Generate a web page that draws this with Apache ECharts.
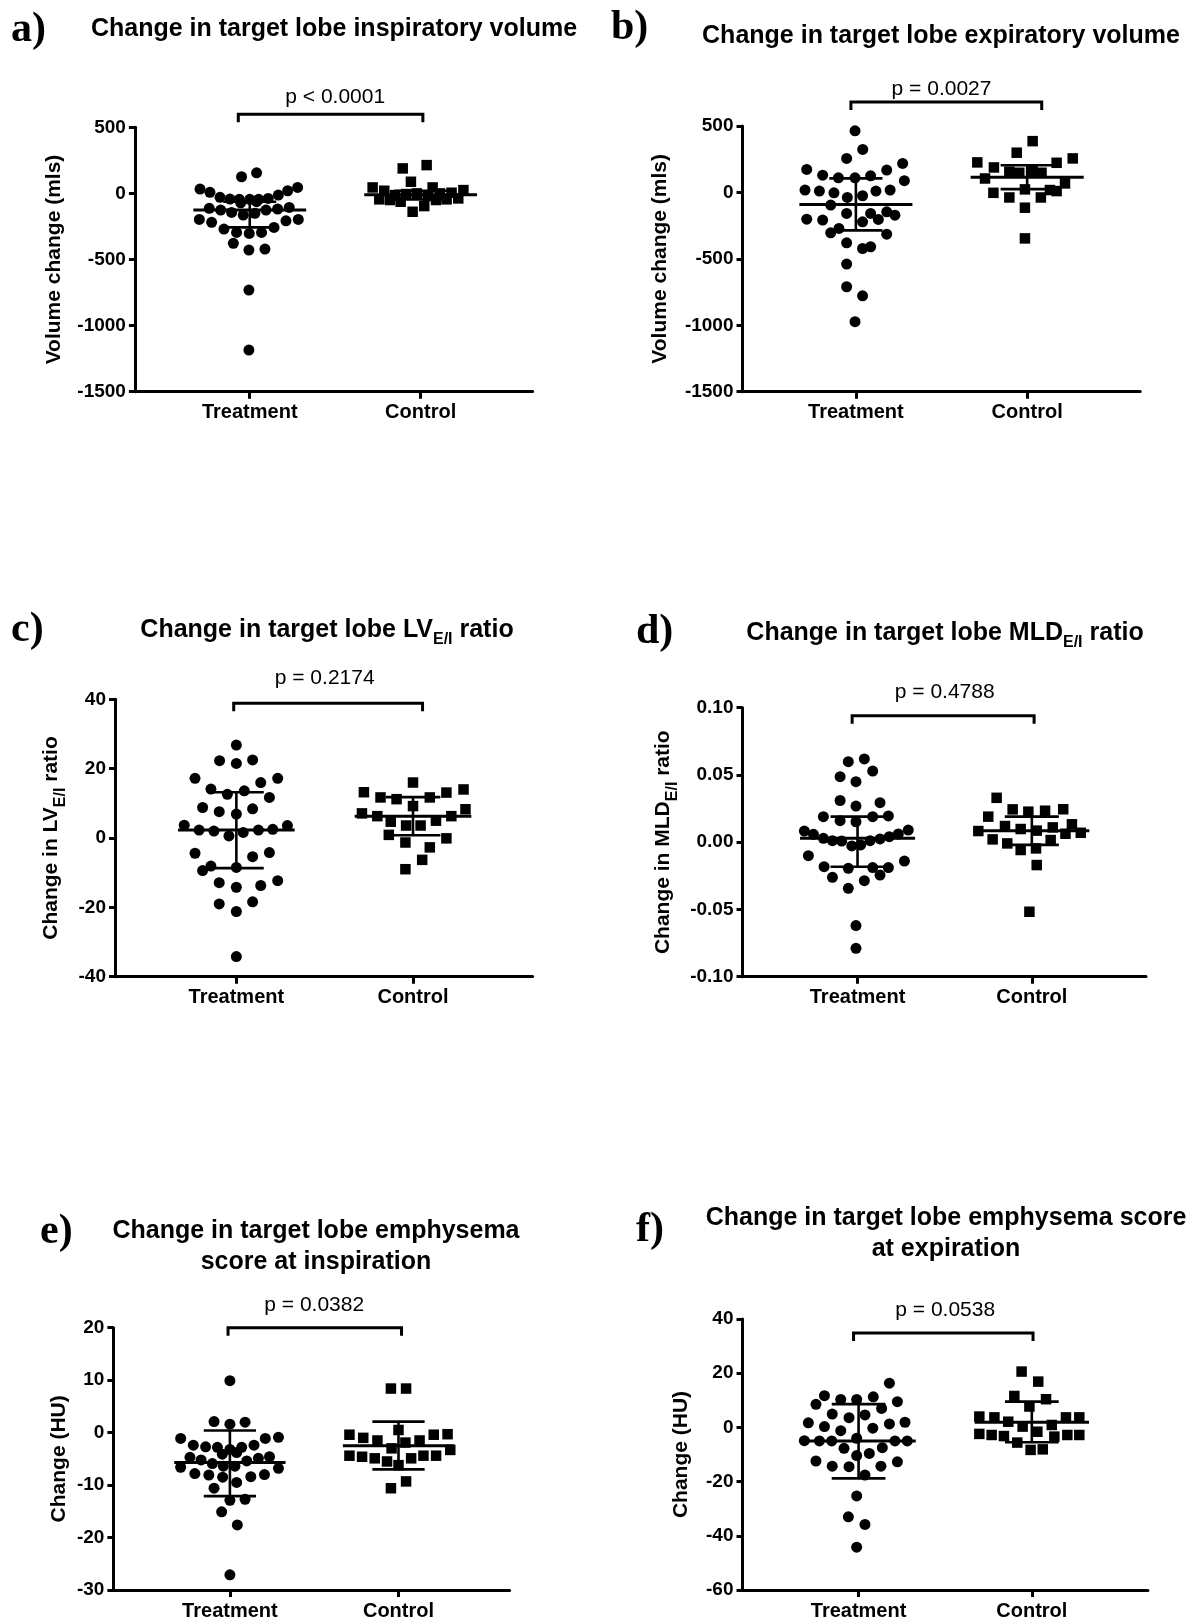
<!DOCTYPE html>
<html>
<head>
<meta charset="utf-8">
<style>
  html, body { margin: 0; padding: 0; background: #fff; }
  #chart { width: 1198px; height: 1622px; }
</style>
<script src="https://cdn.jsdelivr.net/npm/echarts@6/dist/echarts.min.js"></script>
</head>
<body>
<div id="chart"></div>
<script>
// categories on every x axis
const groups = ['Treatment', 'Control'];
const pValues = ['p < 0.0001', 'p = 0.0027', 'p = 0.2174', 'p = 0.4788', 'p = 0.0382', 'p = 0.0538'];

// a) inspiratory volume change (mls)
const aTreatment = [126, 156, 33, 8, 45, 20, -30, -43, -45, -45, -45, -38, -13, -113, -126, -144, -164, -151, -126, -118, -106, -71, -63, -197, -219, -207, -197, -270, -295, -303, -295, -257, -378, -429, -421, -731, -1185];
const aTreatmentSpread = [-0.048, 0.04, -0.291, -0.233, 0.28, 0.222, -0.174, -0.116, -0.061, 0, 0.052, 0.108, 0.167, -0.237, -0.17, -0.106, -0.038, 0.03, 0.095, 0.163, 0.231, -0.053, 0.04, -0.295, -0.223, 0.212, 0.284, -0.151, -0.077, -0.003, 0.069, 0.142, -0.096, -0.005, 0.089, -0.005, -0.005];
const aControl = [189, 214, 88, 45, 20, 45, 25, -13, -5, 0, -20, 0, 5, -45, -50, -63, -50, -45, -38, -96, -139];
const aControlSpread = [-0.105, 0.035, -0.057, -0.281, -0.213, 0.07, 0.25, -0.15, -0.086, -0.023, 0.041, 0.113, 0.181, -0.242, -0.179, -0.117, 0.09, 0.152, 0.22, 0.021, -0.047];
// centre line, lower bar, upper bar
const aSummary = [[-126, -257, -63], [-10, -45, 20]];

// b) expiratory volume change (mls)
const bTreatment = [464, 324, 256, 173, 130, 110, 110, 125, 168, 218, 88, 18, 10, -3, -38, -25, 10, 18, -95, -158, -201, -208, -221, -158, -203, -146, -171, -304, -271, -314, -379, -422, -409, -539, -710, -778, -973];
const bTreatmentSpread = [-0.005, 0.04, -0.054, -0.287, -0.194, -0.102, -0.005, 0.086, 0.18, 0.273, 0.283, -0.297, -0.213, -0.128, -0.05, 0.039, 0.117, 0.2, -0.147, -0.054, -0.287, -0.194, 0.039, 0.086, 0.131, 0.18, 0.228, -0.147, -0.099, 0.18, -0.054, 0.039, 0.086, -0.054, -0.054, 0.039, -0.005];
const bControl = [386, 299, 226, 188, 256, 223, 105, 156, 148, 161, 148, -3, -38, 23, -38, 18, 10, 68, -115, -346];
const bControlSpread = [0.032, -0.061, -0.291, -0.194, 0.266, 0.172, -0.246, -0.104, -0.046, 0.032, 0.084, -0.197, -0.104, -0.013, 0.08, 0.133, 0.172, 0.221, -0.013, -0.013];
const bSummary = [[-90, -286, 106], [115, 25, 205]];

// c) LV E/I ratio change
const cTreatment = [26.8, 22.3, 21.5, 22.5, 17.2, 17.2, 14.1, 12.6, 13.6, 16, 11.7, 8.8, 7.6, 6.9, 8.4, 3.7, 2.3, 2.0, 0.6, 1.6, 2.3, 2.5, 3.6, -4.4, -5.4, -4.2, -8.1, -9.4, -8.5, -12.9, -14.2, -13.7, -12.3, -19.0, -21.2, -18.4, -34.2];
const cTreatmentSpread = [0, -0.095, 0, 0.092, -0.234, 0.234, -0.144, -0.051, 0.045, 0.138, 0.187, -0.191, -0.097, 0, 0.092, -0.295, -0.211, -0.127, -0.042, 0.039, 0.125, 0.206, 0.289, -0.234, 0.092, 0.187, -0.144, -0.191, 0, -0.097, 0, 0.138, 0.234, -0.097, 0, 0.092, 0];
const cControl = [16.0, 13.2, 11.7, 11.2, 11.7, 13.1, 14.0, 9.2, 7.1, 6.3, 4.7, 3.6, 3.6, 5.0, 6.3, 8.3, 0.9, -1.3, -0.1, -2.7, -6.3, -9.0];
const cControlSpread = [0, -0.278, -0.184, -0.093, 0.095, 0.189, 0.286, 0, -0.289, -0.202, -0.126, -0.039, 0.043, 0.13, 0.217, 0.297, -0.137, -0.043, 0.189, 0.095, 0.052, -0.043];
const cSummary = [[2.3, -8.7, 13.2], [6.3, 0.8, 11.8]];

// d) MLD E/I ratio change
const dTreatment = [0.0599, 0.0619, 0.0487, 0.045, 0.0529, 0.031, 0.0269, 0.0294, 0.019, 0.016, 0.0152, 0.019, 0.0195, 0.0083, 0.0059, 0.0029, 0.0011, 0.0009, -0.0028, -0.002, 0.0011, 0.0024, 0.0041, 0.0061, 0.009, -0.01, -0.0182, -0.0194, -0.0189, -0.0189, -0.014, -0.0261, -0.0286, -0.0244, -0.0343, -0.062, -0.0789];
const dTreatmentSpread = [-0.053, 0.039, -0.1, -0.009, 0.087, -0.1, -0.009, 0.129, -0.196, -0.1, -0.009, 0.087, 0.177, -0.305, -0.253, -0.196, -0.144, -0.091, -0.033, 0.018, 0.072, 0.129, 0.182, 0.234, 0.291, -0.282, -0.192, -0.053, 0.087, 0.177, 0.269, -0.144, 0.039, 0.129, -0.053, -0.009, -0.009];
const dControl = [0.033, 0.019, 0.0244, 0.0227, 0.0234, 0.0245, 0.0083, 0.012, 0.0098, 0.0086, 0.011, 0.0133, 0.007, 0.0021, -0.0009, -0.0058, -0.0046, 0.0016, 0.0063, -0.017, -0.0517];
const dControlSpread = [-0.202, -0.25, -0.11, -0.02, 0.076, 0.18, -0.307, -0.154, -0.064, 0.028, 0.12, 0.23, 0.281, -0.225, -0.141, -0.064, 0.024, 0.108, 0.193, 0.028, -0.014];
const dSummary = [[0.0029, -0.0182, 0.019], [0.0086, -0.002, 0.019]];

// e) emphysema score at inspiration (HU)
const eTreatment = [9.9, 2.1, 1.6, 2.0, -1.1, -1.1, -0.9, -2.4, -2.7, -2.8, -3.2, -2.8, -2.4, -4.1, -3.8, -4.7, -5.2, -5.9, -6.4, -6.4, -5.4, -4.9, -4.6, -6.6, -6.8, -7.8, -8.1, -8.5, -9.5, -8.4, -8.0, -10.6, -12.9, -12.7, -15.1, -17.6, -27.1];
const eTreatmentSpread = [0, -0.094, 0, 0.09, -0.292, 0.21, 0.288, -0.217, -0.144, -0.074, 0, 0.07, 0.143, -0.045, 0.04, -0.237, -0.171, -0.104, -0.039, 0.03, 0.1, 0.169, 0.235, -0.292, 0.288, -0.208, -0.125, -0.043, 0.04, 0.124, 0.205, -0.094, 0, 0.09, -0.049, 0.044, 0];
const eControl = [8.4, 8.4, -0.4, -1.0, -1.5, -3.0, 0.5, -1.9, -1.5, -0.4, -0.3, -3.3, -4.4, -4.6, -4.9, -5.5, -6.2, -4.9, -4.4, -4.4, -10.6, -9.3];
const eControlSpread = [-0.045, 0.045, -0.291, -0.209, -0.125, -0.041, 0, 0.041, 0.125, 0.209, 0.291, 0.307, -0.291, -0.216, -0.141, -0.068, 0, 0.075, 0.148, 0.223, -0.045, 0.045];
const eSummary = [[-5.7, -12.1, 0.4], [-2.5, -7.0, 2.1]];

// f) emphysema score at expiration (HU)
const fTreatment = [16.3, 11.7, 10.3, 10.3, 11.3, 8.5, 9.5, 7.0, 4.9, 3.6, 4.6, 1.7, 0.3, -1.2, -0.3, 1.3, 1.9, -4.0, -4.9, -5.0, -5.0, -7.7, -10.4, -9.6, -7.5, -5.0, -5.0, -12.4, -14.3, -14.5, -17.6, -14.3, -12.7, -25.3, -33.0, -35.8, -44.2];
const fTreatmentSpread = [0.178, -0.197, -0.103, -0.011, 0.085, -0.246, 0.224, 0.133, -0.152, -0.055, 0.037, -0.29, -0.197, -0.103, 0.082, 0.178, 0.268, -0.011, -0.313, -0.226, -0.155, -0.084, -0.011, 0.062, 0.137, 0.21, 0.281, -0.246, -0.152, -0.055, 0.037, 0.129, 0.224, -0.011, -0.059, 0.037, -0.011];
const fControl = [20.6, 16.9, 11.6, 10.4, 7.7, 4.0, 3.7, 2.1, 0.3, 0.9, 3.7, 3.7, -2.4, -2.8, -3.2, -5.6, -1.6, -3.4, -2.8, -2.8, -8.3, -8.1];
const fControlSpread = [-0.059, 0.037, -0.101, 0.082, -0.014, -0.303, -0.216, -0.136, -0.053, 0.115, 0.197, 0.274, -0.303, -0.232, -0.161, -0.084, 0.032, 0.13, 0.205, 0.274, -0.007, 0.063];
const fSummary = [[-5.0, -18.8, 8.6], [1.9, -5.5, 9.5]];

const FONT = 'Liberation Sans';
const SUB = { fontFamily: FONT, fontWeight: 'bold', fontSize: 16, color: '#000', fill: '#000', padding: [19, 0, 0, 0], verticalAlign: 'middle' };

// layout of each panel (pixels)
const panels = [
  { letter: 'a)', title: 'Change in target lobe inspiratory volume', yName: 'Volume change (mls)',
    grid: [134.9, 127.3, 397.7, 264.4], xr: [0.328, 2.655], yr: [-1500, 500, 500], nameGap: 70,
    titleAt: [334, 29], letterAt: [11, 30], bracket: [0.933, 2.013], bracketDy: -13, labelDy: 17,
    t: aTreatment, ts: aTreatmentSpread, c: aControl, cs: aControlSpread, s: aSummary },
  { letter: 'b)', title: 'Change in target lobe expiratory volume', yName: 'Volume change (mls)',
    grid: [742.5, 126, 397.7, 265.7], xr: [0.338, 2.66], yr: [-1500, 500, 500], nameGap: 72,
    titleAt: [941, 36], letterAt: [611, 28], bracket: [0.971, 2.085], bracketDy: -24, labelDy: 13,
    t: bTreatment, ts: bTreatmentSpread, c: bControl, cs: bControlSpread, s: bSummary },
  { letter: 'c)', title: 'Change in target lobe LV{sub|E/I} ratio', yName: 'Change in LV{sub|E/I} ratio',
    grid: [115, 699.3, 417.6, 277.4], xr: [0.313, 2.677], yr: [-40, 40, 20], nameGap: 46,
    titleAt: [327, 630], letterAt: [11, 630], bracket: [0.985, 2.054], bracketDy: 4, labelDy: 25,
    t: cTreatment, ts: cTreatmentSpread, c: cControl, cs: cControlSpread, s: cSummary },
  { letter: 'd)', title: 'Change in target lobe MLD{sub|E/I} ratio', yName: 'Change in MLD{sub|E/I} ratio',
    grid: [742.5, 707.7, 403.5, 269], xr: [0.34, 2.655], yr: [-0.1, 0.1, 0.05], nameGap: 62, decimals: 2,
    titleAt: [945, 633], letterAt: [636, 632], bracket: [0.969, 2.013], bracketDy: 8, labelDy: 23,
    t: dTreatment, ts: dTreatmentSpread, c: dControl, cs: dControlSpread, s: dSummary },
  { letter: 'e)', title: 'Change in target lobe emphysema\nscore at inspiration', yName: 'Change (HU)',
    grid: [113.4, 1327.7, 396.2, 262.3], xr: [0.309, 2.659], yr: [-30, 20, 10], nameGap: 44,
    titleAt: [316, 1247], letterAt: [40, 1232], bracket: [0.989, 2.018], bracketDy: 0, labelDy: 22,
    t: eTreatment, ts: eTreatmentSpread, c: eControl, cs: eControlSpread, s: eSummary },
  { letter: 'f)', title: 'Change in target lobe emphysema score\nat expiration', yName: 'Change (HU)',
    grid: [742.5, 1319, 405.4, 271], xr: [0.33, 2.67], yr: [-60, 40, 20], nameGap: 51,
    titleAt: [946, 1234], letterAt: [636, 1230], bracket: [0.971, 2.007], bracketDy: 14, labelDy: 23,
    t: fTreatment, ts: fTreatmentSpread, c: fControl, cs: fControlSpread, s: fSummary }
];

const axisLine = { color: '#000', width: 3 };

function summaryRenderer(params, api) {
  const x = api.value(0), mid = api.value(1), lo = api.value(2), hi = api.value(3);
  const m1 = api.coord([x - 0.33, mid]), m2 = api.coord([x + 0.33, mid]);
  const l1 = api.coord([x - 0.155, lo]), l2 = api.coord([x + 0.155, lo]);
  const h1 = api.coord([x - 0.155, hi]), h2 = api.coord([x + 0.155, hi]);
  const c = api.coord([x, lo]), d = api.coord([x, hi]);
  const st = { stroke: '#000', lineWidth: 2.6 };
  return {
    type: 'group',
    children: [
      { type: 'line', shape: { x1: m1[0], y1: m1[1], x2: m2[0], y2: m2[1] }, style: { stroke: '#000', lineWidth: 3 } },
      { type: 'line', shape: { x1: c[0], y1: c[1], x2: d[0], y2: d[1] }, style: st },
      { type: 'line', shape: { x1: l1[0], y1: l1[1], x2: l2[0], y2: l2[1] }, style: st },
      { type: 'line', shape: { x1: h1[0], y1: h1[1], x2: h2[0], y2: h2[1] }, style: st }
    ]
  };
}

const grid = [], xAxis = [], yAxis = [], series = [], graphic = [];

panels.forEach((p, i) => {
  grid.push({ left: p.grid[0], top: p.grid[1], width: p.grid[2], height: p.grid[3], outerBoundsMode: 'none' });
  xAxis.push({
    gridIndex: i, type: 'value', min: p.xr[0], max: p.xr[1],
    axisLine: { onZero: false, lineStyle: axisLine },
    axisTick: { customValues: [1, 2], length: 7, lineStyle: axisLine },
    axisLabel: {
      customValues: [1, 2], formatter: v => groups[Math.round(v) - 1],
      color: '#000', fontFamily: FONT, fontWeight: 'bold', fontSize: 20, margin: 11
    },
    splitLine: { show: false }
  });
  yAxis.push({
    gridIndex: i, type: 'value', min: p.yr[0], max: p.yr[1], interval: p.yr[2],
    name: p.yName, nameLocation: 'middle', nameGap: p.nameGap, nameRotate: 90,
    nameTextStyle: { color: '#000', fontFamily: FONT, fontWeight: 'bold', fontSize: 21, rich: { sub: SUB } },
    axisLine: { show: true, onZero: false, lineStyle: axisLine },
    axisTick: { show: true, length: 6, lineStyle: axisLine },
    axisLabel: {
      color: '#000', fontFamily: FONT, fontWeight: 'bold', fontSize: 19, margin: 9,
      formatter: v => p.decimals ? (Math.abs(v) < 1e-9 ? 0 : v).toFixed(p.decimals) : String(Math.round(v))
    },
    splitLine: { show: false }
  });

  series.push({
    type: 'scatter', xAxisIndex: i, yAxisIndex: i, symbol: 'circle', symbolSize: 11,
    itemStyle: { color: '#000', opacity: 1 }, silent: true,
    data: p.t.map((v, k) => [1 + p.ts[k], v])
  });
  series.push({
    type: 'scatter', xAxisIndex: i, yAxisIndex: i, symbol: 'rect', symbolSize: 10.5,
    itemStyle: { color: '#000', opacity: 1 }, silent: true,
    data: p.c.map((v, k) => [2 + p.cs[k], v])
  });
  series.push({
    type: 'custom', xAxisIndex: i, yAxisIndex: i, clip: false, silent: true, z: 3,
    renderItem: summaryRenderer,
    encode: { x: 0, y: 1 },
    data: p.s.map((s, k) => [k + 1, s[0], s[1], s[2]])
  });
  // significance bracket with its p value
  series.push({
    type: 'custom', xAxisIndex: i, yAxisIndex: i, clip: false, silent: true, z: 3,
    encode: { x: [0, 1] },
    data: [[p.bracket[0], p.bracket[1]]],
    renderItem: (params, api) => {
      const a = api.coord([api.value(0), p.yr[1]]);
      const b = api.coord([api.value(1), p.yr[1]]);
      const mid = api.coord([1.5, p.yr[1]]);
      const y = a[1] + p.bracketDy;
      return {
        type: 'group',
        children: [
          { type: 'polyline', shape: { points: [[a[0], y + 8], [a[0], y], [b[0], y], [b[0], y + 8]] },
            style: { stroke: '#000', lineWidth: 3, fill: null } },
          { type: 'text', x: mid[0], y: y - p.labelDy,
            style: { text: pValues[i], fill: '#000', fontFamily: FONT, fontSize: 21, align: 'center', verticalAlign: 'middle' } }
        ]
      };
    }
  });

  graphic.push({
    type: 'text', x: p.titleAt[0], y: p.titleAt[1], silent: true,
    style: {
      text: p.title, fill: '#000', fontFamily: FONT, fontWeight: 'bold', fontSize: 25, lineHeight: 31,
      align: 'center', verticalAlign: 'middle', rich: { sub: SUB }
    }
  });
  graphic.push({
    type: 'text', x: p.letterAt[0], y: p.letterAt[1], silent: true,
    style: { text: p.letter, fill: '#000', fontFamily: 'Liberation Serif', fontWeight: 'bold', fontSize: 42, align: 'left', verticalAlign: 'middle' }
  });
});

const chart = echarts.init(document.getElementById('chart'));
chart.setOption({
  backgroundColor: '#fff',
  animation: false,
  grid, xAxis, yAxis, series, graphic
});
</script>
</body>
</html>
